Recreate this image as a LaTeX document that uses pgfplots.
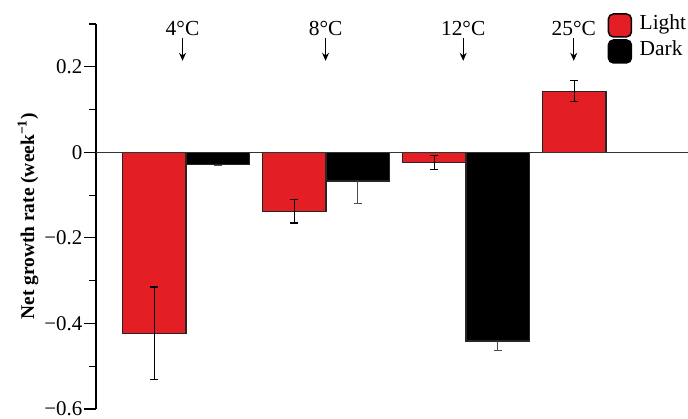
\documentclass[border=0pt]{standalone}
\usepackage{fontspec}
\setmainfont{Liberation Serif}
\usepackage{pgfplots}
\pgfplotsset{compat=1.18}
\usetikzlibrary{arrows.meta}
\definecolor{barred}{RGB}{227,30,36}
\begin{document}
\begin{tikzpicture}[font=\fontsize{21.5}{25}\selectfont]
\path[use as bounding box] (-96bp,-10bp) rectangle (592bp,409bp);
\begin{axis}[
  at={(0,0)}, anchor=south west,
  scale only axis, width=592bp, height=385bp,
  xmin=-0.643, xmax=3.586, ymin=-0.6, ymax=0.3,
  axis y line=left, axis x line=none,
  y axis line style={-, line width=1.2bp},
  ytick={-0.6,-0.4,-0.2,0,0.2},
  yticklabels={−0.6,−0.4,−0.2,0,0.2},
  minor ytick={-0.5,-0.3,-0.1,0.1,0.3},
  tick align=outside,
  major tick length=12bp, minor tick length=7bp,
  every tick/.style={black, line width=1.2bp},
  every minor tick/.style={black, line width=1.2bp},
  yticklabel style={font=\fontsize{21}{24}\selectfont, inner xsep=1.5bp, inner ysep=0pt},
  ylabel={Net growth rate (week\textsuperscript{−1})},
  ylabel style={at={(axis description cs:-0.1149,0.5)}, anchor=center, font=\fontsize{19.5}{23}\selectfont\bfseries},
  ybar=0pt, bar width=63.5bp,
  clip=false,
  legend style={at={(axis description cs:0.864,1.0286)}, anchor=north west, draw=none, fill=none, inner sep=0pt,
    font=\fontsize{21.5}{25}\selectfont, row sep=1.5bp,
    nodes={inner sep=0pt, text height=16bp, text depth=7bp},
    /tikz/every odd column/.append style={column sep=7.5bp}},
  legend cell align=left,
]
\addplot[fill=barred, draw=black!85, line width=1.2bp,
  legend image code/.code={\draw[fill=barred, draw=black, line width=1.5bp, rounded corners=5bp] (0bp,-11.5bp) rectangle (23bp,11.5bp);},
  error bars/.cd, y dir=both, y explicit,
  error bar style={black, line width=1.2bp},
  error mark options={rotate=90, black, line width=1.2bp, mark size=4bp}]
 coordinates {(0,-0.423) +- (0,0.108) (1,-0.138) +- (0,0.027) (2,-0.024) +- (0,0.016) (3,0.143) +- (0,0.025)};
\addplot[fill=black, draw=black!85, line width=1.2bp,
  legend image code/.code={\draw[fill=black, draw=black, line width=1.5bp, rounded corners=5bp] (0bp,-11.5bp) rectangle (23bp,11.5bp);},
  error bars/.cd, y dir=minus, y explicit,
  error bar style={black!70, line width=1.2bp},
  error mark options={rotate=90, black!70, line width=1.2bp, mark size=4bp}]
 coordinates {(0,-0.029) +- (0,0.002) (1,-0.067) +- (0,0.052) (2,-0.441) +- (0,0.022)};
\legend{Light, Dark}
\draw[line width=1bp, black!80] (axis cs:-0.643,0) -- (axis cs:3.586,0);
\node at (axis cs:-0.025,0.289) {4°C};
\node at (axis cs:0.997,0.289) {8°C};
\node at (axis cs:1.98,0.289) {12°C};
\node at (axis cs:2.77,0.289) {25°C};
\draw[-{Stealth[length=8bp,width=7bp]}, line width=1bp] (axis cs:-0.025,0.267) -- (axis cs:-0.025,0.214);
\draw[-{Stealth[length=8bp,width=7bp]}, line width=1bp] (axis cs:0.997,0.267) -- (axis cs:0.997,0.214);
\draw[-{Stealth[length=8bp,width=7bp]}, line width=1bp] (axis cs:1.98,0.267) -- (axis cs:1.98,0.214);
\draw[-{Stealth[length=8bp,width=7bp]}, line width=1bp] (axis cs:2.77,0.267) -- (axis cs:2.77,0.214);
\end{axis}
\end{tikzpicture}
\end{document}
